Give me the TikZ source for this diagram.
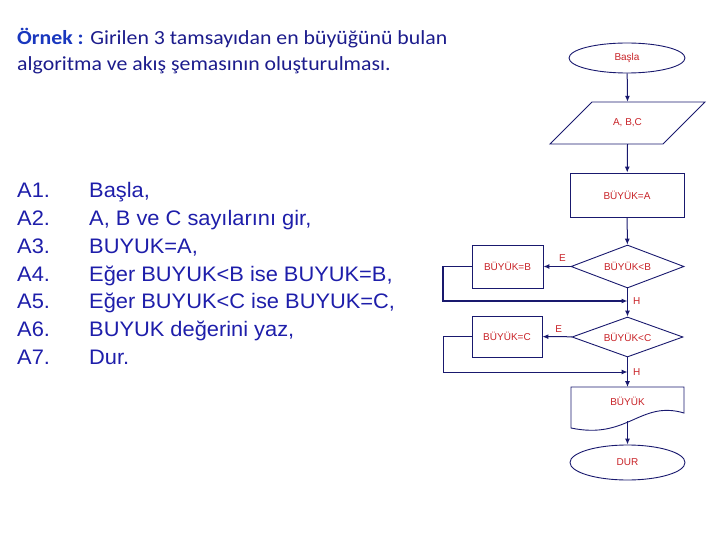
\documentclass[tikz,border=0pt]{standalone}
\usepackage{fontspec}
\setmainfont{Liberation Sans}
\newfontfamily\titlefont[FakeStretch=1.09]{Carlito}
\newfontfamily\listfont[FakeStretch=1.04]{Liberation Sans}
\usetikzlibrary{shapes.geometric,arrows.meta}
\definecolor{txtblue}{RGB}{30,30,170}
\definecolor{titleblue}{RGB}{28,28,140}
\definecolor{boldblue}{RGB}{25,55,190}
\definecolor{navy}{RGB}{25,25,110}
\definecolor{fcred}{RGB}{200,35,40}
\tikzset{
  fc/.style={draw=navy, line width=0.9pt, font=\fontsize{10}{12}\selectfont, text=fcred, inner sep=0pt},
  term/.style={fc, ellipse},
  proc/.style={fc, rectangle},
  dec/.style={fc, diamond},
  conn/.style={draw=navy, line width=1pt, -{Latex[length=6pt,width=5pt]}},
  plain/.style={draw=navy, line width=1pt},
  lbl/.style={text=fcred, font=\fontsize{10}{12}\selectfont, inner sep=0pt},
  listtxt/.style={text=txtblue, font=\listfont\fontsize{21}{24}\selectfont, anchor=base west, inner sep=0pt},
  titletxt/.style={text=titleblue, font=\titlefont\fontsize{20}{24}\selectfont, anchor=base west, inner sep=0pt}
}
\begin{document}
\begin{tikzpicture}[x=1pt,y=-1pt]
\useasboundingbox (0,0) rectangle (720,540);
% title
\node[titletxt] (title1) at (17,45) {\textcolor{boldblue}{\textbf{Örnek :}} Girilen 3 tamsayıdan en büyüğünü bulan};
\node[titletxt] (title2) at (17,71) {algoritma ve akış şemasının oluşturulması.};
% list
\foreach \i/\t [count=\k from 0] in {1/{Başla,},2/{A, B ve C sayılarını gir,},3/{BUYUK=A,},4/{Eğer BUYUK<B ise BUYUK=B,},5/{Eğer BUYUK<C ise BUYUK=C,},6/{BUYUK değerini yaz,},7/{Dur.}}{
  \node[listtxt] (a\i) at (17,198+27.7*\k) {A\i.};
  \node[listtxt] (s\i) at (89,198+27.7*\k) {\t};
}
% flowchart
\node[term, minimum width=116pt, minimum height=30pt] (start) at (627,58) {Başla};
\node[inner sep=0pt, minimum width=60pt, minimum height=42pt, text=fcred, font=\fontsize{10}{12}\selectfont] (io) at (627.5,123) {A, B,C};
\draw[fc] (592,102) -- (705,102) -- (663,144) -- (550,144) -- cycle;
\node[proc, minimum width=114pt, minimum height=44pt] (init) at (627,195) {BÜYÜK=A};
\node[dec, aspect=2.6, minimum width=113pt, minimum height=43pt] (d1) at (627.5,266.5) {BÜYÜK<B};
\node[proc, minimum width=71pt, minimum height=43pt] (pb) at (507.5,266.5) {BÜYÜK=B};
\node[dec, aspect=2.7, minimum width=111pt, minimum height=40pt] (d2) at (627.5,337) {BÜYÜK<C};
\node[proc, minimum width=70pt, minimum height=41pt] (pc) at (507,336.5) {BÜYÜK=C};
\node[inner sep=0pt, minimum width=113pt, minimum height=42pt, anchor=north] (out) at (627.5,387) {};
\node[lbl] (outtxt) at (627.5,401) {BÜYÜK};
\draw[fc] (571,387) -- (684,387) -- (684,413) .. controls (640,400) and (628,440) .. (571,428) -- cycle;
\node[term, minimum width=115pt, minimum height=35pt] (stop) at (627.5,462.5) {DUR};
\coordinate (j1) at (627.5,301);
\coordinate (j2) at (627.5,372);
% connectors
\draw[conn] (start) -- (io.north);
\draw[conn] (io.south) -- (init);
\draw[conn] (init) -- (d1);
\draw[conn] (d1) -- node[lbl, above=5pt, pos=0.3] (e1) {E} (pb);
\draw[plain] (d1.south) -- (j1);
\draw[conn, line width=1.6pt] (pb.west) -- (443,266.5) |- (j1);
\node[lbl, anchor=west] (h1) at (633,301) {H};
\draw[conn] (j1) -- (d2);
\draw[conn] (d2) -- node[lbl, above=4pt, pos=0.45] (e2) {E} (pc);
\draw[plain] (d2.south) -- (j2);
\draw[conn] (pc.west) -- (443,336.5) |- (j2);
\node[lbl, anchor=west] (h2) at (633,372) {H};
\draw[conn] (j2) -- (out.north);
\draw[conn] (627.5,421) -- (stop);
\end{tikzpicture}
\end{document}
